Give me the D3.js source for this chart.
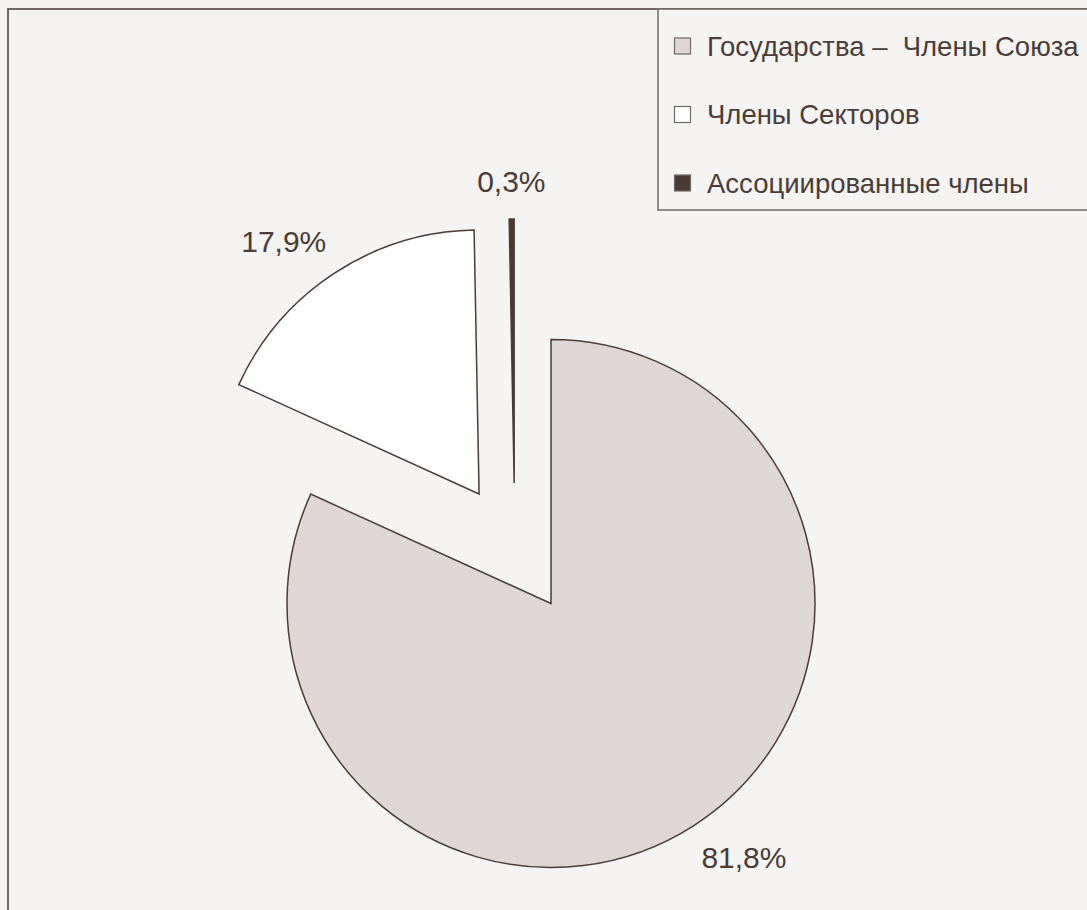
<!DOCTYPE html>
<html>
<head>
<meta charset="utf-8">
<script src="https://cdn.jsdelivr.net/npm/d3@7"></script>
<style>
  html, body { margin: 0; padding: 0; background: #f5f4f2; }
  svg { display: block; font-family: "Liberation Sans", Arial, sans-serif; }
</style>
</head>
<body>
<div id="container"></div>
<script>
(function(){

  // data
  var categories = ["Государства –  Члены Союза", "Члены Секторов", "Ассоциированные члены"]
  var shares = [81.8, 17.9, 0.3]
  var shareLabels = ["81,8%", "17,9%", "0,3%"]

  var colors = ["#dfd7d5", "#ffffff", "#4a3a35"]
  var ink = "#4a3c38"
  // how far each slice is pulled out (px) and in which direction (deg, null = slice middle)
  var explode = [{ dist: 0, dir: null }, { dist: 131, dir: null }, { dist: 126, dir: 343 }]

  var width = 1087, height = 910
  var cx = 551, cy = 603.5, radius = 264

  var svg = d3.select("#container")
    .append("svg")
      .attr("width", width)
      .attr("height", height)

  // outer frame
  svg.append("rect")
    .attr("x", 8).attr("y", 9)
    .attr("width", width + 20).attr("height", height + 20)
    .attr("fill", "#f5f4f2")
    .attr("stroke", "#6f6866")
    .attr("stroke-width", 2)

  var pie = d3.pie()
    .sort(null)
    .value(function(d){ return d })

  var arc = d3.arc()
    .innerRadius(0)
    .outerRadius(radius)

  var slices = pie(shares)
  var toRad = Math.PI / 180

  function offset(d, i){
    var e = explode[i]
    var a = e.dir === null ? (d.startAngle + d.endAngle) / 2 : e.dir * toRad
    return [Math.sin(a) * e.dist, -Math.cos(a) * e.dist]
  }

  var chart = svg.append("g")
    .attr("transform", "translate(" + cx + "," + cy + ")")

  chart.selectAll("path.slice")
    .data(slices)
    .enter().append("path")
      .attr("class", "slice")
      .attr("d", arc)
      .attr("transform", function(d, i){ var o = offset(d, i); return "translate(" + o[0] + "," + o[1] + ")" })
      .attr("fill", function(d, i){ return colors[i] })
      .attr("stroke", ink)
      .attr("stroke-width", 1.5)
      .attr("stroke-linejoin", "miter")

  // percentage labels outside each slice
  var labelR = radius + 38
  function side(d){
    var s = Math.sin((d.startAngle + d.endAngle) / 2)
    return Math.abs(s) < 0.2 ? 0 : (s > 0 ? 1 : -1)
  }
  chart.selectAll("text.pct")
    .data(slices)
    .enter().append("text")
      .attr("class", "pct")
      .attr("x", function(d, i){
        var m = (d.startAngle + d.endAngle) / 2
        return offset(d, i)[0] + Math.sin(m) * labelR - side(d) * 13
      })
      .attr("y", function(d, i){ var m = (d.startAngle + d.endAngle) / 2; return offset(d, i)[1] - Math.cos(m) * labelR })
      .attr("dy", "0.35em")
      .attr("text-anchor", function(d){ var s = side(d); return s === 0 ? "middle" : (s > 0 ? "start" : "end") })
      .attr("fill", ink)
      .style("font-size", "30px")
      .text(function(d, i){ return shareLabels[i] })

  // legend
  var legend = svg.append("g")
  legend.append("rect")
    .attr("x", 658).attr("y", 9)
    .attr("width", 500).attr("height", 201)
    .attr("fill", "#f5f4f2")
    .attr("stroke", "#6f6866")
    .attr("stroke-width", 1.5)

  var rowY = d3.scalePoint()
    .domain(categories)
    .range([46, 183])

  var items = legend.selectAll("g.item")
    .data(categories)
    .enter().append("g")
      .attr("class", "item")
      .attr("transform", function(d){ return "translate(674," + rowY(d) + ")" })

  items.append("rect")
    .attr("x", 0.5).attr("y", -8)
    .attr("width", 16).attr("height", 16)
    .attr("fill", function(d, i){ return colors[i] })
    .attr("stroke", "#6f6866")
    .attr("stroke-width", 1.2)

  items.append("text")
    .attr("x", 33)
    .attr("dy", "0.35em")
    .attr("fill", ink)
    .style("font-size", "27.5px")
    .style("white-space", "pre")
    .text(function(d){ return d })

})()
</script>
</body>
</html>
